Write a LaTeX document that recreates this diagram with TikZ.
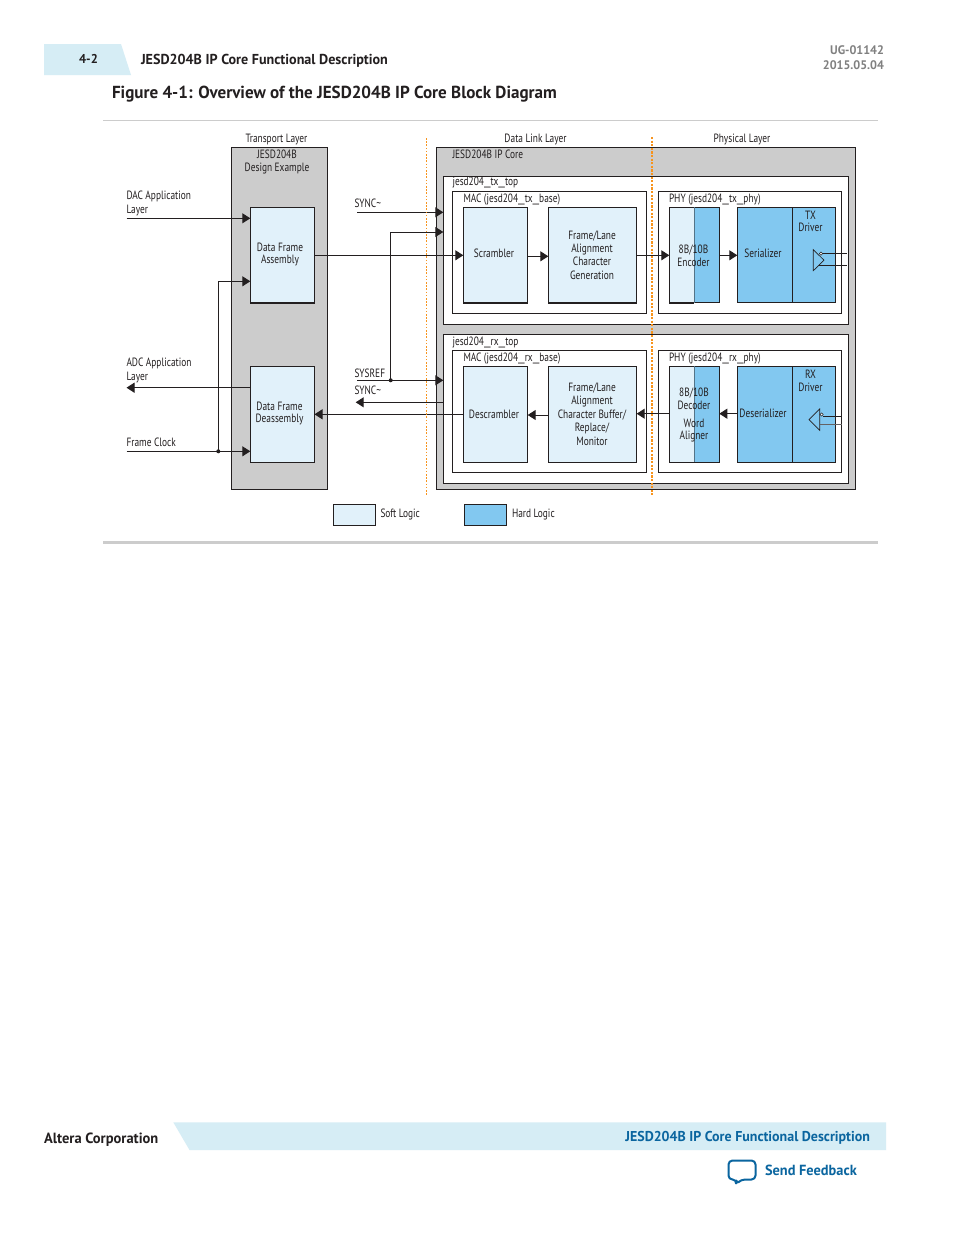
\documentclass[tikz,border=0pt]{standalone}
\usepackage{fontspec}
\usetikzlibrary{arrows.meta}
\setmainfont{PT Sans}
\newfontfamily\condf[FakeStretch=0.78]{PT Sans}
\newfontfamily\headf[FakeStretch=0.98]{PT Sans}
\newfontfamily\usf[FakeStretch=1.35]{PT Sans}
\definecolor{soft}{HTML}{E1F1FA}
\definecolor{hard}{HTML}{82C8F0}
\definecolor{core}{HTML}{CCCCCC}
\definecolor{ink}{HTML}{231F20}
\definecolor{band}{HTML}{D6EDF5}
\definecolor{blu}{HTML}{0A659F}
\definecolor{orng}{HTML}{F7941E}
\newcommand{\us}{{\usf\_}}
\tikzset{
  box/.style={draw=ink,line width=0.8pt,inner sep=0pt,outer sep=0pt},
  softb/.style={box,fill=soft},
  hardb/.style={box,fill=hard},
  whiteb/.style={box,fill=white},
  coreb/.style={box,fill=core},
  halfb/.style={box,fill=soft,path picture={\fill[hard] (path picture bounding box.north) rectangle (path picture bounding box.south east);}},
  lbl/.style={font=\condf\fontsize{9}{9.6}\selectfont,text=ink,inner sep=0pt,outer sep=0pt,align=center},
  lblw/.style={font=\condf\fontsize{9}{9.6}\selectfont,text=ink,inner sep=0pt,outer sep=0pt,align=left},
  wire/.style={draw=ink,line width=0.75pt},
  arr/.style={wire,-{Triangle[length=6pt,width=7.5pt]}},
  dot/.style={circle,fill=ink,inner sep=0pt,minimum size=3pt},
  hd/.style={font=\headf\bfseries,text=ink,inner sep=0pt,outer sep=0pt},
}
\newcommand{\bx}[7]{\node[#6,minimum width={(#4-#2)*0.75pt},minimum height={(#5-#3)*0.75pt}] (#1) at ({(#2+#4)/2},{(#3+#5)/2}) {#7};}
\newcommand{\lab}[4]{\node[lbl] (#1) at (#2,#3) {#4};}
\newcommand{\lef}[4]{\node[lblw,anchor=west] (#1) at (#2,#3) {#4};}
\begin{document}
\begin{tikzpicture}[x=0.75pt,y=-0.75pt]
\useasboundingbox (0,0) rectangle (954,1235);
\fill[white] (0,0) rectangle (954,1235);
% header
\fill[band] (44,44) -- (121,44) -- (131,75) -- (44,75) -- cycle;
\node[hd,font=\headf\bfseries\fontsize{9.6}{11}\selectfont] (pg) at (88.5,59) {4-2};
\node[hd,anchor=west,font=\headf\bfseries\fontsize{10.8}{12}\selectfont] (sec) at (141,60.5) {JESD204B IP Core Functional Description};
\node[hd,anchor=west,font=\headf\bfseries\fontsize{13.05}{15}\selectfont] (fig) at (112,94.3) {Figure 4-1: Overview of the JESD204B IP Core Block Diagram};
\node[hd,anchor=east,text=gray,font=\headf\bfseries\fontsize{9.3}{11}\selectfont] (ug) at (884,50) {UG-01142};
\node[hd,anchor=east,text=gray,font=\headf\bfseries\fontsize{9.3}{11}\selectfont] (dt) at (884,65) {2015.05.04};
\draw[core,line width=0.75pt] (103,120.5) -- (878,120.5);
\draw[core,line width=2.2pt] (103,542.5) -- (878,542.5);
% grey containers
\bx{tl}{231.7}{147.5}{327.6}{489.3}{coreb}{}
\bx{ip}{436.7}{147.7}{855.3}{489.3}{coreb}{}
\bx{txtop}{443.3}{176.3}{848.3}{324.3}{whiteb}{}
\bx{rxtop}{443.3}{334.3}{848.3}{483.7}{whiteb}{}
\bx{mactx}{452.3}{191.3}{646.7}{313.3}{whiteb}{}
\bx{macrx}{452.3}{350.3}{646.7}{472.3}{whiteb}{}
\bx{phytx}{658.3}{191.3}{841.7}{313.3}{whiteb}{}
\bx{phyrx}{658.3}{350.3}{841.7}{472.3}{whiteb}{}
% blocks
\bx{dfa}{250.3}{207.3}{314.5}{303}{softb}{}
\bx{dfd}{250.3}{366.3}{314.5}{462.3}{softb}{}
\bx{scr}{463.3}{207.3}{527.7}{302.7}{softb}{}
\bx{ftx}{548.3}{207.3}{636.7}{302.7}{softb}{}
\bx{dsc}{463.3}{366.3}{527.7}{462.3}{softb}{}
\bx{frx}{548.3}{366.3}{636.7}{462.3}{softb}{}
\bx{enc}{669.3}{207.3}{719.3}{302.7}{halfb}{}
\bx{dec}{669.3}{366.3}{719.3}{462.3}{halfb}{}
\bx{ser}{737.3}{207.3}{792.3}{302.7}{hardb}{}
\bx{txd}{792.3}{207.3}{835.3}{302.7}{hardb}{}
\bx{des}{737.3}{366.3}{792.3}{462.3}{hardb}{}
\bx{rxd}{792.3}{366.3}{835.3}{462.3}{hardb}{}
\draw[ink!50!hard,line width=0.6pt] (enc.north) -- (enc.south);
\draw[ink!50!hard,line width=0.6pt] (dec.north) -- (dec.south);
\draw[ink,line width=1.5pt] (dfa.south west) -- (dfa.south east);
\draw[ink,line width=1.5pt] (scr.south west) -- (scr.south east);
\draw[ink,line width=1.5pt] (ftx.south west) -- (ftx.south east);
\draw[ink,line width=1.5pt] (enc.south west) -- (enc.south);
% legend
\bx{lgs}{333.3}{504.3}{375.7}{525.3}{softb}{}
\bx{lgh}{464.5}{504.3}{506.5}{525.3}{hardb}{}
% coordinates
\coordinate (dac) at (126.5,218.3);
\coordinate (adc) at (126.5,387.7);
\coordinate (clk) at (126.5,451.3);
\coordinate (syncin) at (357,212.3);
\coordinate (sysref) at (357,380.3);
\coordinate (syncout) at (355.7,402.3);
\coordinate (rise) at (390.7,232);
\coordinate (fb) at (218.3,281.3);
\coordinate (aout) at (314.5,255.3);
\coordinate (din) at (314.5,414.3);
% connectors
\draw[arr] (dac) -- (dac -| dfa.west);
\draw[arr] (dfd.west |- adc) -- (adc);
\draw[wire] (clk) -- (clk -| fb);
\draw[arr] (clk -| fb) -- (clk -| dfd.west);
\draw[arr] (clk -| fb) -- (fb) -- (fb -| dfa.west);
\node[dot] (dclk) at (clk -| fb) {};
\draw[arr] (syncin) -- (syncin -| txtop.west);
\draw[arr] (sysref) -- (sysref -| rxtop.west);
\draw[arr] (sysref -| rise) -- (rise) -- (rise -| txtop.west);
\node[dot] (dsys) at (sysref -| rise) {};
\draw[arr] (syncout -| rxtop.west) -- (syncout);
\draw[arr] (aout -| dfa.east) -- (aout -| scr.west);
\draw[arr] (din -| dsc.west) -- (din -| dfd.east);
\coordinate (t1) at (0,256.3);
\coordinate (t2) at (0,255.3);
\draw[arr] (t1 -| scr.east) -- (t1 -| ftx.west);
\draw[arr] (t2 -| ftx.east) -- (t2 -| enc.west);
\draw[arr] (t2 -| enc.east) -- (t2 -| ser.west);
\coordinate (r1) at (0,413.7);
\coordinate (r2) at (0,415);
\draw[arr] (r1 -| des.west) -- (r1 -| dec.east);
\draw[arr] (r1 -| dec.west) -- (r1 -| frx.east);
\draw[arr] (r2 -| frx.west) -- (r2 -| dsc.east);
% TX buffer
\draw[draw=ink,line width=0.5pt,fill=hard] (813.3,249.7) -- (824,260.2) -- (813.3,270.7) -- cycle;
\coordinate (tp) at (846.7,253.7);
\coordinate (tn) at (846.7,265.3);
\draw[wire] (821,253.7) -- (tp);
\draw[wire] (818.5,265.3) -- (tn);
\draw[ink,fill=white,line width=0.4pt] (821,253.7) circle (1.6);
% RX buffer
\draw[draw=ink,line width=0.5pt,fill=hard] (819.7,409) -- (809,419.7) -- (819.7,430.3) -- cycle;
\coordinate (rp) at (phyrx.east |- 0,416);
\coordinate (rn) at (phyrx.east |- 0,424.3);
\draw[wire] (823,416) -- (rp);
\draw[wire,draw=ink!70] (820,424.3) -- (rn);
\draw[ink,fill=white,line width=0.4pt] (821.7,414.5) circle (1.6);
% labels
\lab{a1}{276.5}{139.5}{Transport Layer}
\lab{a2}{277}{162.3}{JESD204B\\Design Example}
\lef{a3}{126.5}{203.5}{DAC Application\\[0.5pt]Layer}
\lab{a4}{280}{254.5}{Data Frame\\[-1pt]Assembly}
\lef{a5}{354.5}{203}{SYNC\textasciitilde}
\lef{a6}{354.5}{373}{SYSREF}
\lef{a7}{354.5}{390}{SYNC\textasciitilde}
\lef{a8}{126.5}{370.5}{ADC Application\\[0.5pt]Layer}
\lef{a9}{126.5}{442}{Frame Clock}
\lab{a10}{279.5}{413.5}{Data Frame\\[-1pt]Deassembly}
\lab{a11}{535.5}{139}{Data Link Layer}
\lab{a12}{742}{139}{Physical Layer}
\lef{a13}{452.5}{154}{JESD204B IP Core}
\lef{a14}{452.5}{182.8}{jesd204\us tx\us top}
\lef{a15}{463.5}{199.5}{MAC (jesd204\us tx\us base)}
\lef{a16}{669}{199.5}{PHY (jesd204\us tx\us phy)}
\lab{a17}{494}{253}{Scrambler}
\lab{a18}{592}{255}{Frame/Lane\\[0.4pt]Alignment\\[0.4pt]Character\\[0.4pt]Generation}
\lab{a19}{693.5}{255.5}{8B/10B\\Encoder}
\lab{a20}{763}{253}{Serializer}
\lab{a21}{810.5}{221.5}{TX\\[-1pt]Driver}
\lef{a22}{452.5}{342}{jesd204\us rx\us top}
\lef{a23}{463.5}{358.5}{MAC (jesd204\us rx\us base)}
\lef{a24}{669}{358.5}{PHY (jesd204\us rx\us phy)}
\lab{a25}{494}{414}{Descrambler}
\lab{a26}{592}{414}{Frame/Lane\\[0.5pt]Alignment\\[0.5pt]Character Buffer/\\[0.5pt]Replace/\\[0.5pt]Monitor}
\lab{a27}{694}{398.5}{8B/10B\\Decoder}
\lab{a28}{694}{430.5}{Word\\[-0.5pt]Aligner}
\lab{a29}{763}{413}{Deserializer}
\lab{a30}{810.5}{381}{RX\\Driver}
\lef{a31}{380.5}{514}{Soft Logic}
\lef{a32}{512}{514.5}{Hard Logic}
% layer boundaries
\draw[orng,line width=0.8pt,dash pattern=on 1.2pt off 1.2pt] (426.3,138) -- (426.3,496);
\draw[orng,line width=1.6pt,dash pattern=on 1.6pt off 1.1pt] (651.7,137) -- (651.7,495);
% footer
\fill[band] (173.3,1122.3) -- (886,1122.3) -- (886,1150) -- (189.5,1150) -- cycle;
\node[hd,anchor=west,font=\headf\bfseries\fontsize{11.1}{12}\selectfont] (alt) at (44,1139.5) {Altera Corporation};
\node[hd,anchor=east,text=blu,font=\headf\bfseries\fontsize{10.7}{12}\selectfont] (ftr) at (870,1137.5) {JESD204B IP Core Functional Description};
\node[hd,anchor=west,text=blu,font=\headf\bfseries\fontsize{11}{12}\selectfont] (sf) at (765,1170) {Send Feedback};
\draw[blu,line width=1.5pt,rounded corners=3pt,line join=round] (741,1179.5) -- (755.5,1179.5) -- (755.5,1160.5) -- (728.5,1160.5) -- (728.5,1179.5) -- (736.5,1179.5) -- (736,1184.5) -- cycle;
\end{tikzpicture}
\end{document}
